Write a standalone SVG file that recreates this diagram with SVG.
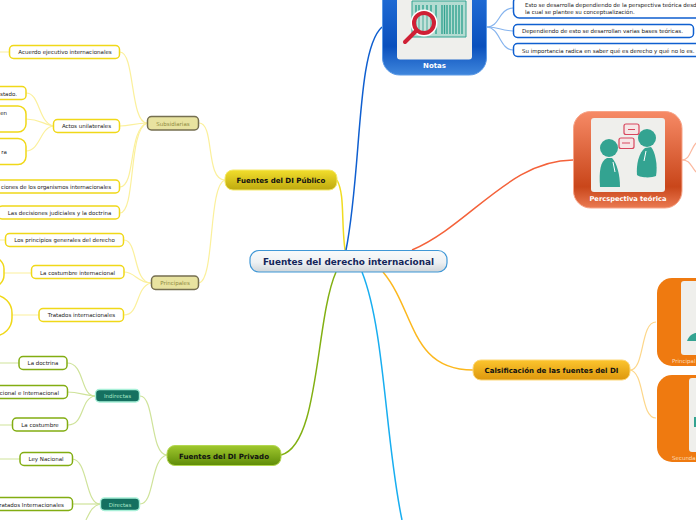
<svg xmlns="http://www.w3.org/2000/svg" width="696" height="520" viewBox="0 0 696 520">
<style>
text{font-family:"DejaVu Sans",Verdana,sans-serif;text-anchor:middle}
.s{font-size:5.5px;fill:#222}
.y{fill:#fff;stroke:#f0d818;stroke-width:1.5}
.g{fill:#fff;stroke:#82ad12;stroke-width:1.5}
.b{fill:#fff;stroke:#0f5fd0;stroke-width:1.5}
.sub{fill:#e8e3a0;stroke:#756f50;stroke-width:1.5}
.tl{fill:#157060;stroke:#a8f0d8;stroke-width:1.4}
.m{font-size:7.050px;font-weight:bold;fill:#111}
.c{fill:none;stroke-width:1.2}
.k{fill:none;stroke-width:1.500}
.cy{stroke:#fbf09c}.cg{stroke:#cfe39a}.cb{stroke:#86b4ee}.co{stroke:#fdd78a}.cr{stroke:#fbb9a0}
.card{fill:#efefec}
.tk{fill:#33a391}
.w{fill:#fff;font-weight:bold}
</style>
<defs>
<linearGradient id="gc" x1="0" y1="0" x2="0" y2="1"><stop offset="0" stop-color="#f8fafb"/><stop offset=".55" stop-color="#eef1f3"/><stop offset="1" stop-color="#cfd5d9"/></linearGradient>
<linearGradient id="gy" x1="0" y1="0" x2="0" y2="1"><stop offset="0" stop-color="#f2de2c"/><stop offset="1" stop-color="#bea90e"/></linearGradient>
<linearGradient id="gg" x1="0" y1="0" x2="0" y2="1"><stop offset="0" stop-color="#a0c82e"/><stop offset="1" stop-color="#5f8c08"/></linearGradient>
<linearGradient id="go" x1="0" y1="0" x2="0" y2="1"><stop offset="0" stop-color="#fcc52e"/><stop offset="1" stop-color="#dd970c"/></linearGradient>
<linearGradient id="gb" x1="0" y1="0" x2="0" y2="1"><stop offset="0" stop-color="#2f7fe6"/><stop offset=".75" stop-color="#0a50bd"/><stop offset="1" stop-color="#3f86dc"/></linearGradient>
<linearGradient id="gr" x1="0" y1="0" x2="0" y2="1"><stop offset="0" stop-color="#f68a66"/><stop offset=".78" stop-color="#c9461a"/><stop offset="1" stop-color="#ea7a52"/></linearGradient>
</defs>
<g id="connectors">
<path class="k" stroke="#f0dc20" d="M345 250C341 220 345 195 337 180"/>
<path class="k" stroke="#0f5fd0" d="M346 250C362 170 356 50 382 27"/>
<path class="k" stroke="#f4623a" d="M412 250C470 225 510 160 573 160"/>
<path class="k" stroke="#82b012" d="M336 272C315 320 320 445 281 455"/>
<path class="k" stroke="#18aef0" d="M362 272C385 330 385 440 402 520"/>
<path class="k" stroke="#fcb81e" d="M383 272C415 310 410 370 473 370"/>
<path class="c cy" d="M225 180C205 180 215 123 199 123"/>
<path class="c cy" d="M225 180C208 185 215 280 199 283"/>
<path class="c cy" d="M147 123C130 123 135 52 120 52"/>
<path class="c cy" d="M147 123C135 123 130 126 120 126"/>
<path class="c cy" d="M147 123C128 130 136 186 120 187"/>
<path class="c cy" d="M147 123C128 130 136 212 120 213"/>
<path class="c cy" d="M53 126C38 122 40 93 26 93"/>
<path class="c cy" d="M53 126C42 124 40 119 26 119"/>
<path class="c cy" d="M53 126C40 128 40 151 26 151"/>
<path class="c cy" d="M151 283C133 283 138 240 124 240"/>
<path class="c cy" d="M151 283C138 283 135 272 124 272"/>
<path class="c cy" d="M151 283C135 287 140 315 124 315"/>
<path class="c cy" d="M4 273H31M12 315H39M0 240H5M0 52H9"/>
<path class="c cg" d="M167 455C150 455 155 396 140 396"/>
<path class="c cg" d="M167 455C150 458 155 504 140 504"/>
<path class="c cg" d="M95 396C80 396 85 363 67 363"/>
<path class="c cg" d="M95 396C85 396 80 392 67 392"/>
<path class="c cg" d="M95 396C80 398 85 425 68 425"/>
<path class="c cg" d="M100 504C85 504 88 459 72 459"/>
<path class="c cg" d="M100 504H72"/>
<path class="c cg" d="M100 504C92 506 90 512 86 520"/>
<path class="c cg" d="M0 363H19M0 425H12M0 459H20"/>
<path class="c cb" d="M487 27C500 27 498 9 513 8"/>
<path class="c cb" d="M487 27C500 27 498 30 513 31"/>
<path class="c cb" d="M487 27C500 28 500 50 513 50"/>
<path class="c cr" d="M682 160C690 160 690 150 696 143"/>
<path class="c cr" d="M682 160C690 160 690 165 696 172"/>
<path class="c co" d="M630 370C645 370 640 322 656 322"/>
<path class="c co" d="M630 370C645 372 640 418 656 418"/>
</g>
<g id="n-acuerdo"><rect class="y" x="9.500" y="45.500" width="110" height="13" rx="4"/><text class="s" x="65" y="54">Acuerdo ejecutivo internacionales</text></g>
<g id="n-subsidiarias"><rect class="sub" x="147.500" y="116.500" width="51" height="13.500" rx="4"/><text class="s" x="173" y="125.500" style="fill:#8f8a40">Subsidiarias</text></g>
<g id="n-actos"><rect class="y" x="53.500" y="119.500" width="66" height="13" rx="4"/><text class="s" x="86.500" y="128">Actos unilaterales</text></g>
<g id="n-estado"><rect class="y" x="-30" y="86.500" width="56" height="13" rx="4"/><text class="s" x="17" y="95.500" style="text-anchor:end">stado.</text></g>
<g id="n-en"><rect class="y" x="-30" y="106" width="56" height="26" rx="8"/><text class="s" x="7" y="115" style="text-anchor:end">en</text></g>
<g id="n-ra"><rect class="y" x="-30" y="138.500" width="56" height="26" rx="8"/><text class="s" x="7" y="154" style="text-anchor:end">ra</text></g>
<g id="n-resoluciones"><rect class="y" x="-30" y="180" width="149.500" height="13" rx="4"/><text class="s" x="1" y="189" style="text-anchor:start" textLength="110">ciones de los organismos internacionales</text></g>
<g id="n-decisiones"><rect class="y" x="-2" y="206" width="121.500" height="13" rx="4"/><text class="s" x="59.500" y="215">Las decisiones judiciales y la doctrina</text></g>
<g id="n-principios"><rect class="y" x="5.500" y="233.500" width="118" height="13" rx="4"/><text class="s" x="64.500" y="242">Los principios generales del derecho</text></g>
<g id="n-costumbre"><rect class="y" x="31.500" y="265.500" width="92.500" height="13" rx="4"/><text class="s" x="77.500" y="274.500">La costumbre internacional</text></g>
<g id="n-tratados"><rect class="y" x="39" y="308.500" width="84.500" height="13" rx="4"/><text class="s" x="81.500" y="317">Tratados internacionales</text></g>
<g id="n-principales"><rect class="sub" x="151.500" y="276" width="47" height="13.500" rx="4"/><text class="s" x="175" y="285" style="fill:#8f8a40">Principales</text></g>
<g id="n-left1"><rect class="y" x="-40" y="257" width="44" height="30" rx="12"/></g>
<g id="n-left2"><rect class="y" x="-40" y="295" width="52" height="41" rx="18"/></g>
<g id="n-publico"><rect x="225" y="170" width="112" height="20" rx="8" fill="url(#gy)" stroke="#f5e96a"/><text class="m" x="281" y="183">Fuentes del DI Público</text></g>
<g id="n-doctrina"><rect class="g" x="19" y="356.500" width="48" height="13" rx="4"/><text class="s" x="43" y="365">La doctrina</text></g>
<g id="n-nacional"><rect class="g" x="-30" y="385.500" width="97.500" height="13" rx="4"/><text class="s" x="59" y="394.500" style="text-anchor:end">cional e Internacional</text></g>
<g id="n-costumbre2"><rect class="g" x="12.500" y="418" width="55" height="13" rx="4"/><text class="s" x="40" y="427">La costumbre</text></g>
<g id="n-indirectas"><rect class="tl" x="95.500" y="389.500" width="44" height="12.500" rx="4"/><text class="s" x="117.500" y="398" style="fill:#a8e8c8">Indirectas</text></g>
<g id="n-ley"><rect class="g" x="20" y="452.500" width="52.500" height="13" rx="4"/><text class="s" x="46" y="461">Ley Nacional</text></g>
<g id="n-tratados2"><rect class="g" x="-30" y="497.500" width="102.500" height="13" rx="4"/><text class="s" x="64" y="506.500" style="text-anchor:end">ratados Internacionales</text></g>
<g id="n-directas"><rect class="tl" x="100.500" y="498" width="39" height="12.500" rx="4"/><text class="s" x="120" y="506.500" style="fill:#a8e8c8">Directas</text></g>
<g id="n-privado"><rect x="167" y="445.500" width="114" height="20" rx="8" fill="url(#gg)" stroke="#b4d850"/><text class="m" x="224" y="458.500">Fuentes del DI Privado</text></g>
<g id="n-central"><rect x="250" y="250.500" width="197" height="21.500" rx="9" fill="url(#gc)" stroke="#3f97d6" stroke-width="1.200"/><text x="348.500" y="265" style="font-size:8.900px;font-weight:bold;fill:#14265a">Fuentes del derecho internacional</text></g>
<g id="n-notas"><rect x="382.500" y="-40" width="104" height="115" rx="17" fill="url(#gb)" stroke="#5c9ae6"/><rect class="card" x="397" y="-20" width="75" height="79.500" rx="3"/>
<path d="M412 1H466V37H412Z" fill="#b4dcd2" stroke="#33a391"/>
<path d="M416 5V34M419 5V34M423 5V34M427 5V34M431 5V34M436 5V34M442 5V34M444.500 5V34M447 5V34M450 5V34M453 5V34M456 5V34M459 5V34M462 5V34" stroke="#33a391" stroke-width="1.400"/>
<circle cx="424" cy="23" r="12" fill="#efefec" fill-opacity=".3" stroke="#fff" stroke-width="3"/>
<circle cx="424" cy="23" r="10" fill="none" stroke="#cf2035" stroke-width="4"/>
<path d="M416 31L405 42" stroke="#cf2035" stroke-width="4" stroke-linecap="round"/>
<text class="w" x="434.500" y="68" style="font-size:7px">Notas</text></g>
<g id="n-nota1"><rect class="b" x="513.500" y="-4" width="190" height="22" rx="6"/><text class="s" x="525" y="7" style="text-anchor:start">Esto se desarrolla dependiendo de la perspectiva teórica desd</text><text class="s" x="525" y="14" style="text-anchor:start">la cual se plantee su conceptualización.</text></g>
<g id="n-nota2"><rect class="b" x="513.500" y="24.500" width="180" height="13" rx="4"/><text class="s" x="522" y="33" style="text-anchor:start">Dependiendo de esto se desarrollan varias bases teóricas.</text></g>
<g id="n-nota3"><rect class="b" x="513.500" y="43.500" width="190" height="13" rx="4"/><text class="s" x="522" y="53" style="text-anchor:start">Su importancia radica en saber qué es derecho y qué no lo es.</text></g>
<g id="n-perspectiva"><rect x="573.500" y="111.500" width="108.500" height="96.500" rx="17" fill="url(#gr)" stroke="#f7a488"/><rect class="card" x="591" y="118" width="74" height="74" rx="3"/>
<circle cx="609" cy="148" r="9" class="tk"/><path d="M607 158C600 161 599 172 600 187H620C620 175 617 163 612 158Z" class="tk"/>
<circle cx="647" cy="138" r="9" class="tk"/><path d="M645 148C639 152 636 165 637 175C640 178 652 178 656 176C658 165 655 151 651 147Z" class="tk"/>
<path d="M613 162L615 172M646 151L644 161" stroke="#fff"/>
<rect x="624" y="124" width="15" height="10.500" rx="2" fill="#f6e6e6" stroke="#d8475e" stroke-width="1.200"/><path d="M628 129.500H635" stroke="#d8475e"/>
<rect x="619" y="138" width="15" height="10.500" rx="2" fill="#f6e6e6" stroke="#d8475e" stroke-width="1.200"/><path d="M622 143H630" stroke="#d8475e"/>
<text class="w" x="628" y="201" style="font-size:6.700px">Percspectiva teórica</text></g>
<g id="n-clasificacion"><rect x="473" y="360" width="157" height="20" rx="8" fill="url(#go)" stroke="#fdd878"/><text class="m" x="551.500" y="373">Calsificación de las fuentes del DI</text></g>
<g id="n-principales2"><rect x="657" y="278" width="70" height="88" rx="15" fill="#ef7a10"/><rect class="card" x="681" y="281" width="40" height="74" rx="3"/><path d="M687 341C689 335 694 333 696 333V341Z" class="tk"/><text x="672" y="363" style="font-size:5.500px;text-anchor:start;fill:#fbdcb8">Principal</text></g>
<g id="n-secundarias"><rect x="657" y="375" width="70" height="87" rx="15" fill="#ef7a10"/><rect class="card" x="689" y="378" width="30" height="74" rx="3"/><path d="M694 427H696V417H694Z" class="tk"/><text x="672" y="460" style="font-size:5.500px;text-anchor:start;fill:#fbdcb8">Secunda</text></g>
</svg>
